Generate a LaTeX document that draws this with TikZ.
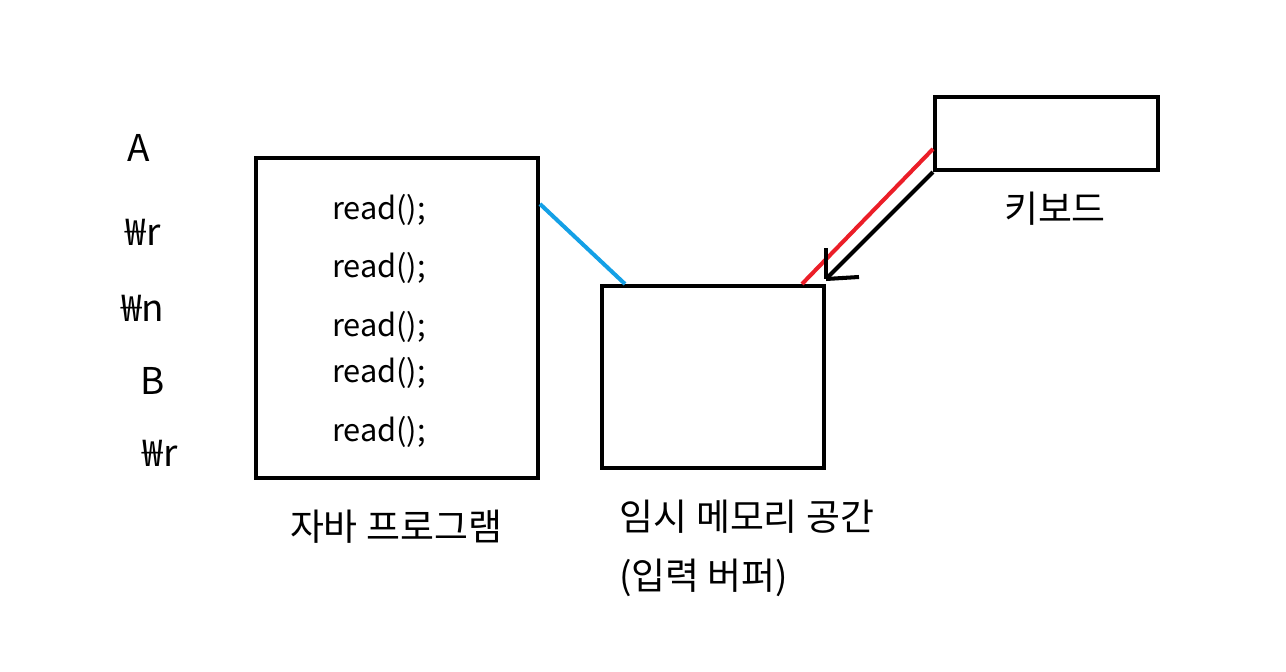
\documentclass[tikz,border=0pt]{standalone}
\usepackage{fontspec}
\setmainfont{Noto Sans CJK KR}
\usetikzlibrary{positioning}
\tikzset{
  box/.style={draw,line width=2.3pt,inner sep=0pt},
  lbl/.style={font=\fontsize{21}{25}\selectfont,inner sep=0pt},
  call/.style={font=\fontsize{17.5}{21}\selectfont,inner sep=0pt},
  wire/.style={line width=2.3pt}
}
\definecolor{wireblue}{RGB}{20,160,230}
\definecolor{wirered}{RGB}{235,30,40}

\begin{document}
\begin{tikzpicture}[x=0.02cm,y=-0.02cm]
  \useasboundingbox (0,0) rectangle (1286,672);
  % boxes
  \node[box,minimum width=5.64cm,minimum height=6.4cm] (prog) at (397,318) {};
  \node[box,minimum width=4.44cm,minimum height=3.64cm] (buf) at (713,377) {};
  \node[box,minimum width=4.46cm,minimum height=1.46cm] (kbd) at (1046.5,133.5) {};
  % labels
  \node[lbl] (progname) at (396,527) {자바 프로그램};
  \node[lbl] (bufname) at (747,517) {임시 메모리 공간};
  \node[lbl,anchor=west] (bufsub) at (619,578) {(입력 버퍼)};
  \node[lbl] (kbdname) at (1055,209) {키보드};
  % calls
  \foreach \y [count=\i] in {210,268,327,373,432}
    \node[call] (read\i) at (379,\y) {read();};
  % input chars
  \node[lbl] (chA) at (139,148) {A};
  \node[lbl] (chR1) at (143,232) {₩r};
  \node[lbl] (chN) at (143,308) {₩n};
  \node[lbl] (chB) at (153,381) {B};
  \node[lbl] (chR2) at (160,453) {₩r};
  % connectors
  \draw[wire,wireblue] ([yshift=-0.96cm]prog.north east) -- ([xshift=0.5cm]buf.north west);
  \draw[wire,wirered] ([yshift=-1.08cm]kbd.north west) -- ([xshift=-0.48cm]buf.north east);
  \coordinate (tip) at ([yshift=0.1cm]buf.north east);
  \draw[wire] (kbd.south west) -- (tip);
  \draw[wire] (tip) -- ++(0,-31);
  \draw[wire] (tip) -- ++(33,-2);
\end{tikzpicture}
\end{document}
